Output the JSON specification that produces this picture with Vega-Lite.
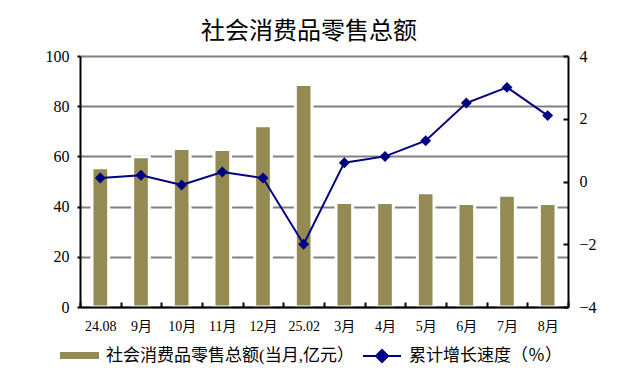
{
  "$schema": "https://vega.github.io/schema/vega-lite/v6.json",
  "width": 488,
  "height": 251,
  "autosize": {"type": "none"},
  "padding": {"left": 80, "top": 56, "right": 58, "bottom": 77},
  "background": "white",
  "config": {"view": {"stroke": null}, "font": "Liberation Serif, Noto Sans CJK SC"},
  "title": {"text": "社会消费品零售总额", "font": "Noto Sans CJK SC", "fontSize": 24, "fontWeight": "normal", "color": "black", "anchor": "middle", "dx": -15, "offset": 4},
  "data": {"values": [
    {"month": "24.08", "sales": 55.5, "growth": 0.11},
    {"month": "9月", "sales": 59.9, "growth": 0.2},
    {"month": "10月", "sales": 63.1, "growth": -0.11},
    {"month": "11月", "sales": 62.7, "growth": 0.3},
    {"month": "12月", "sales": 72.2, "growth": 0.11},
    {"month": "25.02", "sales": 88.6, "growth": -2.0},
    {"month": "3月", "sales": 41.6, "growth": 0.6},
    {"month": "4月", "sales": 41.6, "growth": 0.8},
    {"month": "5月", "sales": 45.5, "growth": 1.3},
    {"month": "6月", "sales": 41.2, "growth": 2.5},
    {"month": "7月", "sales": 44.5, "growth": 3.0},
    {"month": "8月", "sales": 41.2, "growth": 2.1}
  ]},
  "encoding": {
    "x": {
      "field": "month", "type": "ordinal", "sort": null,
      "scale": {"paddingInner": 0, "paddingOuter": 0},
      "axis": {"title": null, "labelAngle": 0, "labelFont": "Liberation Serif, Noto Sans CJK SC", "labelFontSize": 14, "labelColor": "black", "labelPadding": 17, "tickBand": "extent", "tickSize": -5, "tickWidth": 2, "tickColor": "black", "domainColor": "black", "domainWidth": 2, "zindex": 1}
    }
  },
  "layer": [
    {
      "mark": {"type": "bar", "width": {"band": 0.41}, "stroke": "white", "strokeWidth": 3},
      "encoding": {
        "y": {"field": "sales", "type": "quantitative", "scale": {"domain": [0, 100]},
          "axis": {"title": null, "orient": "left", "values": [0, 20, 40, 60, 80, 100], "grid": true, "gridColor": "#808080", "gridWidth": 2, "gridOpacity": 1, "labelFontSize": 16, "labelColor": "black", "labelFont": "Liberation Serif, Noto Sans CJK SC", "labelPadding": 8, "tickSize": 3, "tickWidth": 2, "tickColor": "black", "domainColor": "black", "domainWidth": 2}},
        "fill": {"datum": "社会消费品零售总额(当月,亿元）", "type": "nominal", "scale": {"range": ["#948A54"]},
          "legend": {"orient": "none", "legendX": -20, "legendY": 280, "title": null, "padding": 0, "symbolType": "M-1,-0.18H1V0.18H-1Z", "symbolSize": 1521, "symbolStrokeWidth": 0, "labelFontSize": 17, "labelFont": "Liberation Serif, Noto Sans CJK SC", "labelColor": "black", "labelOffset": 7, "labelLimit": 400}}
      }
    },
    {
      "mark": {"type": "line", "strokeWidth": 2},
      "encoding": {
        "y": {"field": "growth", "type": "quantitative", "scale": {"domain": [-4, 4]},
          "axis": {"title": null, "orient": "right", "values": [-4, -2, 0, 2, 4], "grid": false, "labelFontSize": 16, "labelColor": "black", "labelFont": "Liberation Serif, Noto Sans CJK SC", "labelPadding": 16, "tickSize": -5, "tickWidth": 2, "tickColor": "black", "domainColor": "black", "domainWidth": 2}},
        "stroke": {"datum": "累计增长速度（％）", "type": "nominal", "scale": {"range": ["#000080"]},
          "legend": {"orient": "none", "legendX": 282, "legendY": 280, "title": null, "padding": 0, "symbolType": "M-1,0H1M0,-0.32L0.32,0L0,0.32L-0.32,0Z", "symbolSize": 1444, "symbolStrokeWidth": 2, "symbolFillColor": "#000080", "symbolStrokeColor": "#000080", "labelFontSize": 17, "labelFont": "Liberation Serif, Noto Sans CJK SC", "labelColor": "black", "labelOffset": 7, "labelLimit": 400,
            "encode": {"symbols": {"update": {"fill": {"value": "#000080"}, "stroke": {"value": "#000080"}}}}}}
      }
    },
    {
      "mark": {"type": "point", "shape": "diamond", "size": 120, "filled": true, "color": "#000080", "opacity": 1},
      "encoding": {
        "y": {"field": "growth", "type": "quantitative", "scale": {"domain": [-4, 4]}, "axis": null}
      }
    }
  ],
  "resolve": {"scale": {"y": "independent"}}
}
